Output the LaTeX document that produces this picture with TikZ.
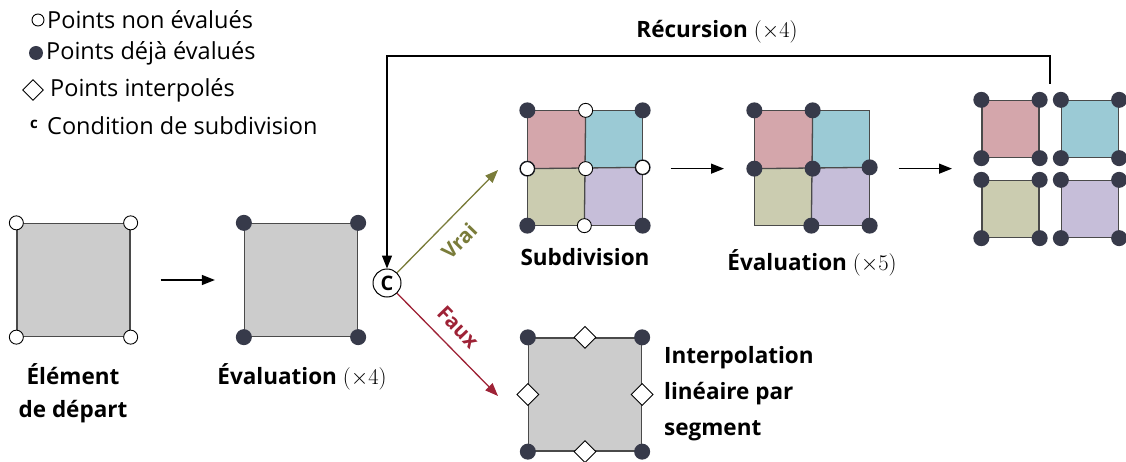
\RequirePackage{fix-cm}
\documentclass[tikz,border=0pt]{standalone}
\usepackage{fontspec}
\setmainfont{Open Sans}
\usetikzlibrary{arrows.meta,shapes.geometric}
\definecolor{sqgray}{HTML}{CCCCCC}
\definecolor{edgec}{HTML}{4A4A4A}
\definecolor{dotc}{HTML}{373A4A}
\definecolor{cpink}{HTML}{D4A6AB}
\definecolor{cteal}{HTML}{9BCAD5}
\definecolor{colive}{HTML}{CBCCB0}
\definecolor{clav}{HTML}{C6BED9}
\definecolor{vraic}{HTML}{7A7C3A}
\definecolor{fauxc}{HTML}{9E2236}
\tikzset{
  sqedge/.style={draw=edgec,line width=1.3pt},
  bigsq/.style={sqedge,fill=sqgray,minimum size=113pt,inner sep=0pt,rectangle},
  smallsq/.style={sqedge,minimum size=57pt,inner sep=0pt,rectangle},
  wdot/.style={circle,draw=black,fill=white,line width=0.9pt,minimum size=14pt,inner sep=0pt},
  bdot/.style={circle,fill=dotc,minimum size=16pt,inner sep=0pt},
  idia/.style={diamond,draw=black,fill=white,line width=0.9pt,minimum size=22pt,inner sep=0pt},
  tip/.style={-{Triangle[length=13pt,width=10pt]}},
  arr/.style={line width=1.3pt,tip},
  lbl/.style={font=\fontsize{22.5}{27}\selectfont\bfseries,inner sep=0pt},
  leg/.style={font=\fontsize{23.5}{28}\selectfont,inner sep=0pt,anchor=west},
  cnode/.style={circle,draw=black,line width=1pt,fill=white,minimum size=28pt,inner sep=0pt,font=\fontsize{20}{22}\selectfont\bfseries},
  vf/.style={inner sep=0pt,font=\fontsize{20.5}{22}\selectfont\bfseries},
}
\begin{document}
\begin{tikzpicture}[x=1pt,y=-1pt]
\useasboundingbox (0,0) rectangle (1126,462);
% legend
\node[wdot,minimum size=12pt] (lg1) at (38,20) {};
\node[leg] (lt1) at (47,20) {Points non évalués};
\node[bdot,minimum size=14pt] (lg2) at (36,53) {};
\node[leg] (lt2) at (46,53) {Points déjà évalués};
\node[idia,minimum size=21pt] (lg3) at (33,90) {};
\node[leg] (lt3) at (50,90) {Points interpolés};
\node[inner sep=0pt,font=\fontsize{15}{17}\selectfont\bfseries] (lg4) at (34,124) {c};
\node[leg] (lt4) at (47,126) {Condition de subdivision};

% element de depart
\node[bigsq] (s1) at (73.5,280) {};
\foreach \a in {north west,north east,south west,south east}
  \node[wdot] at (s1.\a) {};
\node[lbl,align=center] (l1) at (73,393) {Élément\\[6pt]de départ};

% evaluation x4
\node[bigsq] (s2) at (301,280) {};
\foreach \a in {north west,north east,south west,south east}
  \node[bdot] at (s2.\a) {};
\node[lbl] (l2) at (302,377) {Évaluation $(\times 4)$};
\draw[arr] ([xshift=30pt]s1.east) -- ([xshift=-29pt]s2.west);

% condition
\node[cnode] (C) at (387,283) {C};

% subdivision grid
\node[smallsq,draw=none,fill=cpink] (g1) at (556.5,139.5) {};
\node[smallsq,draw=none,fill=cteal] (g2) at (613.5,139.5) {};
\node[smallsq,draw=none,fill=colive] (g3) at (556.5,196.5) {};
\node[smallsq,draw=none,fill=clav] (g4) at (613.5,196.5) {};
\draw[sqedge] (g1.north west) rectangle (g4.south east);
\draw[sqedge] (g1.north east) -- (g4.south west);
\draw[sqedge] (g1.south west) -- (g4.north east);
\foreach \a in {north west,south west} \node[bdot] at (g1.\a) {};
\foreach \a in {north east,south east} \node[bdot] at (g4.\a) {};
\node[bdot] at (g2.north east) {};
\node[bdot] at (g3.south west) {};
\node[wdot] at (g1.north east) {};
\node[wdot] at (g1.south west) {};
\node[wdot] at (g1.south east) {};
\node[wdot] at (g4.north east) {};
\node[wdot] at (g4.south west) {};
\node[lbl] (l3) at (585,257) {Subdivision};

% evaluation x5 grid
\node[smallsq,draw=none,fill=cpink] (h1) at (783.5,139.5) {};
\node[smallsq,draw=none,fill=cteal] (h2) at (840.5,139.5) {};
\node[smallsq,draw=none,fill=colive] (h3) at (783.5,196.5) {};
\node[smallsq,draw=none,fill=clav] (h4) at (840.5,196.5) {};
\draw[sqedge] (h1.north west) rectangle (h4.south east);
\draw[sqedge] (h1.north east) -- (h4.south west);
\draw[sqedge] (h1.south west) -- (h4.north east);
\foreach \a in {north west,north east,south west,south east} \node[bdot] at (h1.\a) {};
\foreach \a in {north east,south east} \node[bdot] at (h4.\a) {};
\node[bdot] at (h4.south west) {};
\node[lbl] (l4) at (812,263) {Évaluation $(\times 5)$};
\coordinate (gout) at ([xshift=28pt]g2.south east);
\coordinate (hin) at (724,0);
\draw[arr] (gout) -- (gout -| hin);

% split squares
\node[smallsq,fill=cpink] (k1) at (1010.5,129) {};
\node[smallsq,fill=cteal] (k2) at (1090,129) {};
\node[smallsq,fill=colive] (k3) at (1010.5,209) {};
\node[smallsq,fill=clav] (k4) at (1090,209) {};
\foreach \k in {k1,k2,k3,k4}
  \foreach \a in {north west,north east,south west,south east}
    \node[bdot] at (\k.\a) {};
\coordinate (hout) at ([xshift=29pt]h2.south east);
\coordinate (kin) at (952,0);
\draw[arr] (hout) -- (hout -| kin);

% recursion
\coordinate (rtop) at (1050,84);
\draw[arr] (rtop) -- ++(0,-28) -| (C.north);
\node[lbl] (l5) at (717,32) {Récursion $(\times 4)$};

% vrai / faux
\coordinate (vend) at (498,170);
\coordinate (fend) at (498,396);
\draw[line width=1.3pt,draw=vraic,fill=vraic,tip] (C) -- (vend);
\draw[line width=1.3pt,draw=fauxc,fill=fauxc,tip] (C) -- (fend);
\node[vf,text=vraic,rotate=46] (lv) at (459,241) {Vrai};
\node[vf,text=fauxc,rotate=-46] (lf) at (458,327) {Faux};

% interpolation
\node[bigsq] (s3) at (585,394.5) {};
\foreach \a in {north west,north east,south west,south east}
  \node[bdot] at (s3.\a) {};
\foreach \a in {north,south,east,west}
  \node[idia] at (s3.\a) {};
\node[lbl,anchor=west,align=left] (l6) at (664,394) {Interpolation\\[9pt]linéaire par\\[9pt]segment};
\end{tikzpicture}
\end{document}
